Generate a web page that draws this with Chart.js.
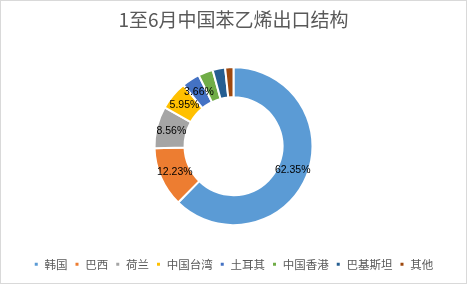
<!DOCTYPE html>
<html><head><meta charset="utf-8">
<script src="https://cdn.jsdelivr.net/npm/chart.js@4/dist/chart.umd.min.js"></script>
<style>html,body{margin:0;padding:0;background:#fff}#w{width:467px;height:284px}</style>
</head><body><div id="w"><canvas id="c"></canvas></div>
<script>
const categories = ['韩国','巴西','荷兰','中国台湾','土耳其','中国香港','巴基斯坦','其他'];
const shares = [62.35, 12.23, 8.56, 5.95, 3.66, 3.0, 2.55, 1.7];
const shownLabels = ['62.35%','12.23%','8.56%','5.95%','3.66%','','',''];
const colors = ['#5B9BD5','#ED7D31','#A5A5A5','#FFC000','#4472C4','#70AD47','#255E91','#9E480E'];
const titleText = '1至6月中国苯乙烯出口结构';

const labelPlugin = {
  id:'arcLabels',
  afterDatasetsDraw(chart){
    const ctx = chart.ctx;
    const meta = chart.getDatasetMeta(0);
    ctx.save();
    ctx.font = '10.5px "Liberation Sans", Arial, sans-serif';
    ctx.fillStyle = '#000';
    ctx.textAlign = 'center';
    ctx.textBaseline = 'middle';
    meta.data.forEach((arc,i)=>{
      const t = shownLabels[i];
      if(!t) return;
      const p = arc.tooltipPosition();
      ctx.fillText(t, p.x, p.y);
    });
    ctx.restore();
  }
};
const borderPlugin = {
  id:'frame',
  afterDraw(chart){
    const ctx = chart.ctx;
    ctx.save();
    ctx.strokeStyle = '#D9D9D9';
    ctx.lineWidth = 1;
    ctx.strokeRect(0.5,0.5,chart.width-1,chart.height-1);
    ctx.restore();
  }
};

new Chart(document.getElementById('c'), {
  type:'doughnut',
  data:{labels:categories, datasets:[{data:shares, backgroundColor:colors, borderColor:'#fff', borderWidth:2, hoverOffset:0}]},
  options:{
    responsive:true, maintainAspectRatio:false, animation:false,
    cutout:'62%', radius:79,
    layout:{padding:{top:0,bottom:4,left:0,right:0}},
    plugins:{
      title:{display:true, text:titleText, color:'#595959', font:{size:19, family:'"Noto Sans CJK SC", sans-serif', weight:'normal'}, padding:{top:8,bottom:10}},
      legend:{position:'bottom', labels:{color:'#595959', font:{size:11.5, family:'"Noto Sans CJK SC", sans-serif'}, usePointStyle:true, pointStyle:'rect', boxWidth:5, boxHeight:5, padding:7}},
      tooltip:{enabled:false}
    }
  },
  plugins:[labelPlugin,borderPlugin]
});
</script></body></html>
